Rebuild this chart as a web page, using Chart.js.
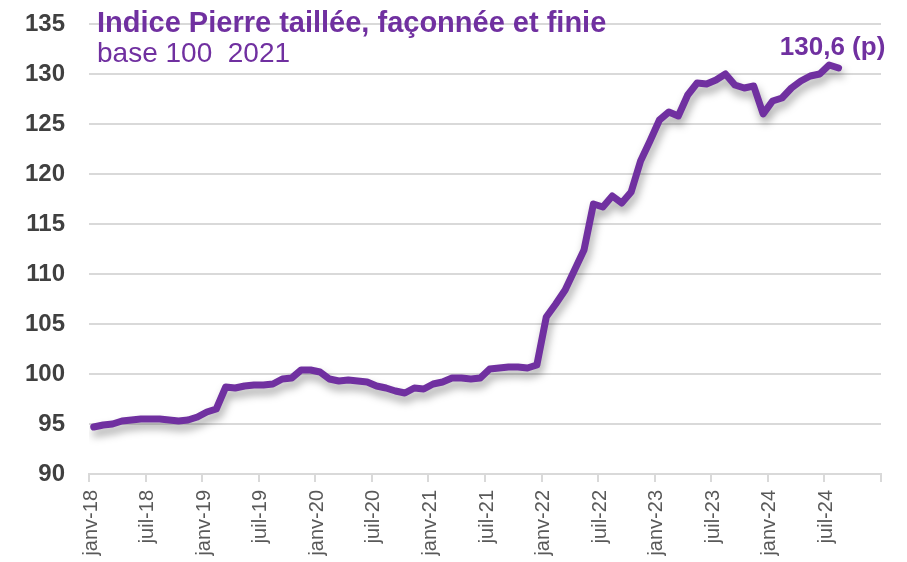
<!DOCTYPE html>
<html lang="fr">
<head>
<meta charset="utf-8">
<script src="https://cdn.jsdelivr.net/npm/chart.js@4/dist/chart.umd.min.js"></script>
<style>
  html, body { margin: 0; padding: 0; background: #ffffff; }
  #wrap { position: relative; width: 907px; height: 562px; overflow: hidden; }
  #c { position: absolute; left: 0; top: 0; }
  .t { position: absolute; left: 97px; margin: 0; white-space: pre; color: #7030A0;
       font-family: "Liberation Sans", Arial, sans-serif; font-size: 28px; line-height: 28px; }
  #title { top: 8px; font-weight: bold; font-size: 29px; line-height: 29px; }
  #sub { top: 39px; font-weight: normal; }
</style>
</head>
<body>
<div id="wrap">
  <canvas id="c" width="907" height="562"></canvas>
  <div id="title" class="t">Indice Pierre taillée, façonnée et finie</div>
  <div id="sub" class="t">base 100  2021</div>
</div>
<script>
// Monthly index values, janv-18 .. août-24
const values = [
  94.7, 94.9, 95.0, 95.3, 95.4, 95.5, 95.5, 95.5, 95.4, 95.3, 95.4, 95.7,
  96.2, 96.5, 98.7, 98.6, 98.8, 98.9, 98.9, 99.0, 99.5, 99.6, 100.4, 100.4,
  100.2, 99.5, 99.3, 99.4, 99.3, 99.2, 98.8, 98.6, 98.3, 98.1, 98.6, 98.5,
  99.0, 99.2, 99.6, 99.6, 99.5, 99.6, 100.5, 100.6, 100.7, 100.7, 100.6, 100.9,
  105.7, 107.0, 108.4, 110.4, 112.4, 117.0, 116.7, 117.8, 117.1, 118.2, 121.3, 123.3,
  125.4, 126.2, 125.8, 127.9, 129.1, 129.0, 129.4, 130.0, 128.9, 128.6, 128.8, 126.0,
  127.3, 127.6, 128.6, 129.3, 129.8, 130.0, 130.9, 130.6
];
const monthNames = ['janv','févr','mars','avr','mai','juin','juil','août','sept','oct','nov','déc'];
const years = ['18','19','20','21','22','23','24'];
const categories = [];
years.forEach(y => monthNames.forEach(m => categories.push(m + '-' + y)));
const tickLabels = ['janv-18','juil-18','janv-19','juil-19','janv-20','juil-20','janv-21',
  'juil-21','janv-22','juil-22','janv-23','juil-23','janv-24','juil-24'];
const yTicks = [90, 95, 100, 105, 110, 115, 120, 125, 130, 135];
const lastLabel = '130,6 (p)';
const seriesName = 'Indice Pierre taillée, façonnée et finie';

const points = values.map((v, i) => ({ x: i + 0.5, y: v, label: categories[i] }));

const FONT = '"Liberation Sans", Arial, sans-serif';
const PURPLE = '#7030A0';
const GRID = '#d9d9d9';

const shadowPlugin = {
  id: 'shadow',
  beforeDatasetDraw(chart) {
    const ctx = chart.ctx;
    ctx.save();
    ctx.shadowColor = 'rgba(0,0,0,0.35)';
    ctx.shadowBlur = 8;
    ctx.shadowOffsetX = 2;
    ctx.shadowOffsetY = 6;
  },
  afterDatasetDraw(chart) {
    chart.ctx.restore();
  }
};

const lastLabelPlugin = {
  id: 'lastLabel',
  afterDatasetsDraw(chart) {
    const meta = chart.getDatasetMeta(0);
    const pt = meta.data[meta.data.length - 1];
    const ctx = chart.ctx;
    ctx.save();
    ctx.font = 'bold 26px ' + FONT;
    ctx.fillStyle = PURPLE;
    ctx.textAlign = 'center';
    ctx.textBaseline = 'alphabetic';
    ctx.fillText(lastLabel, pt.x - 6, pt.y - 13);
    ctx.restore();
  }
};

new Chart(document.getElementById('c'), {
  type: 'line',
  data: {
    datasets: [{
      label: seriesName,
      data: points,
      borderColor: PURPLE,
      backgroundColor: PURPLE,
      borderWidth: 7,
      borderJoinStyle: 'round',
      borderCapStyle: 'round',
      pointRadius: 0,
      tension: 0,
      fill: false
    }]
  },
  options: {
    responsive: false,
    animation: false,
    devicePixelRatio: 1,
    layout: { padding: { top: 24, right: 26, left: 0, bottom: 0 } },
    plugins: {
      legend: { display: false },
      tooltip: { enabled: false },
      title: { display: false }
    },
    scales: {
      x: {
        type: 'linear',
        min: 0,
        max: 84,
        afterFit(scale) {
          scale.height = 88;
          scale.paddingLeft = 0;
          scale.paddingRight = 0;
        },
        afterBuildTicks(scale) {
          scale.ticks = tickLabels.map((_, i) => ({ value: i * 6 })).concat([{ value: 84 }]);
        },
        ticks: {
          autoSkip: false,
          maxRotation: 90,
          minRotation: 90,
          padding: 8,
          labelOffset: 2,
          color: '#595959',
          font: { family: FONT, size: 20 },
          callback: (v) => tickLabels[Math.round(v / 6)] || ''
        },
        grid: {
          drawOnChartArea: false,
          drawTicks: true,
          tickLength: 8,
          color: GRID,
          lineWidth: 2
        },
        border: { display: true, color: GRID, width: 2 }
      },
      y: {
        min: 90,
        max: 135,
        afterFit(scale) {
          scale.width = 89;
          scale.paddingTop = 0;
          scale.paddingBottom = 0;
        },
        afterBuildTicks(scale) {
          scale.ticks = yTicks.map(v => ({ value: v }));
        },
        ticks: {
          padding: 24,
          color: '#404040',
          font: { family: FONT, size: 24, weight: 'bold' }
        },
        grid: {
          drawTicks: false,
          color: GRID,
          lineWidth: 2
        },
        border: { display: false }
      }
    }
  },
  plugins: [shadowPlugin, lastLabelPlugin]
});
</script>
</body>
</html>
